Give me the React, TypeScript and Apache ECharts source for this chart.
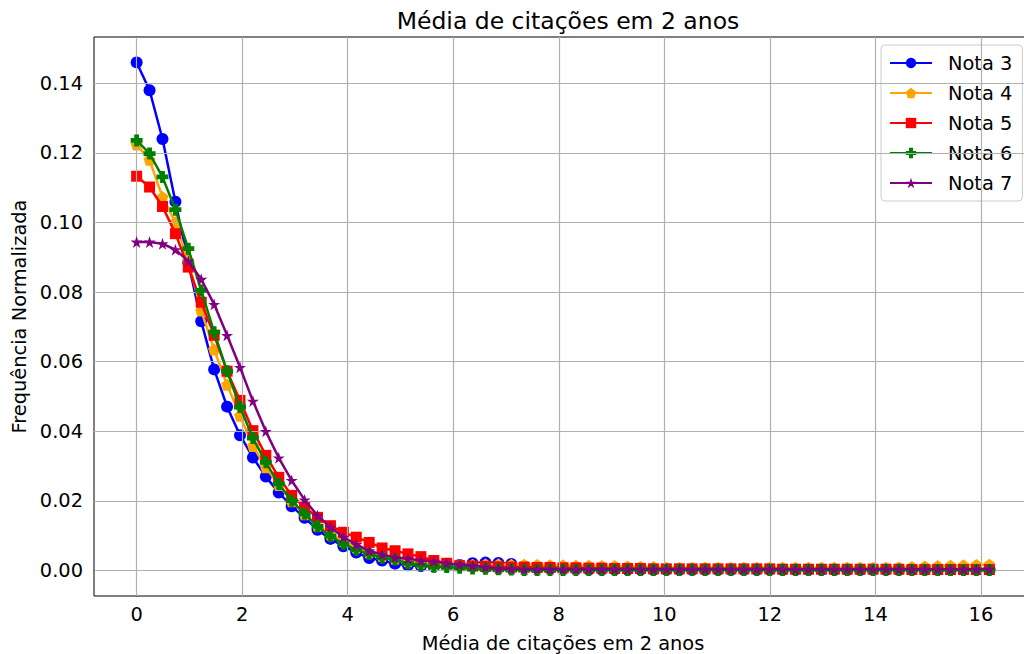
import React, { useEffect, useRef } from "react";
import * as echarts from "echarts";

const xValues = [
  0, 0.245, 0.49, 0.735, 0.979, 1.224, 1.469, 1.714, 1.959, 2.204, 2.448, 2.693, 2.938, 3.183, 3.428, 3.673,
  3.918, 4.162, 4.407, 4.652, 4.897, 5.142, 5.387, 5.632, 5.876, 6.121, 6.366, 6.611, 6.856, 7.101, 7.345,
  7.59, 7.835, 8.08, 8.325, 8.57, 8.815, 9.059, 9.304, 9.549, 9.794, 10.039, 10.284, 10.528, 10.773, 11.018,
  11.263, 11.508, 11.753, 11.998, 12.242, 12.487, 12.732, 12.977, 13.222, 13.467, 13.712, 13.956, 14.201,
  14.446, 14.691, 14.936, 15.181, 15.425, 15.67, 15.915, 16.16,
];

const nota3 = [
  0.146, 0.138, 0.124, 0.106, 0.0885, 0.0716, 0.0578, 0.0471, 0.0389, 0.0325, 0.027, 0.0224, 0.0185, 0.0152,
  0.0117, 0.0091, 0.007, 0.0052, 0.0036, 0.0029, 0.002, 0.0015, 0.0013, 0.0012, 0.0013, 0.0016, 0.0021, 0.0023,
  0.0022, 0.0019, 0.0012, 0.0008, 0.0006, 0.0005, 0.0005, 0.0004, 0.0004, 0.0004, 0.0003, 0.0003, 0.0003,
  0.0003, 0.0003, 0.0003, 0.0003, 0.0003, 0.0003, 0.0003, 0.0003, 0.0003, 0.0003, 0.0003, 0.0003, 0.0003,
  0.0003, 0.0003, 0.0003, 0.0003, 0.0003, 0.0003, 0.0003, 0.0003, 0.0003, 0.0003, 0.0003, 0.0003, 0.0003,
];

const nota4 = [
  0.1224, 0.118, 0.1073, 0.1001, 0.089, 0.0747, 0.0635, 0.0534, 0.0445, 0.0358, 0.0297, 0.0246, 0.0199, 0.0162,
  0.0129, 0.0104, 0.0084, 0.0066, 0.0052, 0.0042, 0.0034, 0.0027, 0.0022, 0.0018, 0.0016, 0.0016, 0.0017, 0.0018,
  0.0018, 0.0017, 0.0017, 0.0016, 0.0015, 0.0015, 0.0014, 0.0014, 0.0013, 0.0013, 0.0012, 0.0011, 0.001,
  0.0008, 0.0008, 0.0008, 0.0008, 0.0008, 0.0008, 0.0008, 0.0008, 0.0008, 0.0008, 0.0008, 0.0008, 0.0008,
  0.0008, 0.0008, 0.0008, 0.0008, 0.0008, 0.0009, 0.001, 0.0012, 0.0013, 0.0014, 0.0015, 0.0016, 0.0017,
];

const nota5 = [
  0.1133, 0.1102, 0.1046, 0.0968, 0.0872, 0.0771, 0.0676, 0.0573, 0.0489, 0.0402, 0.0331, 0.0268, 0.0216, 0.0182,
  0.0153, 0.0129, 0.011, 0.0096, 0.0081, 0.0065, 0.0057, 0.0048, 0.004, 0.0029, 0.0021, 0.0014, 0.0013, 0.0012,
  0.0011, 0.001, 0.001, 0.0009, 0.0009, 0.0008, 0.0008, 0.0007, 0.0007, 0.0006, 0.0006, 0.0006, 0.0005,
  0.0005, 0.0005, 0.0005, 0.0005, 0.0005, 0.0005, 0.0005, 0.0005, 0.0005, 0.0004, 0.0004, 0.0004, 0.0004,
  0.0004, 0.0004, 0.0004, 0.0004, 0.0004, 0.0004, 0.0003, 0.0003, 0.0003, 0.0003, 0.0003, 0.0003, 0.0003,
];

const nota6 = [
  0.1236, 0.1198, 0.1131, 0.1037, 0.0925, 0.0805, 0.0685, 0.0573, 0.047, 0.0381, 0.0311, 0.0249, 0.0201, 0.0163,
  0.0127, 0.0099, 0.0077, 0.006, 0.0048, 0.0037, 0.0031, 0.0021, 0.0016, 0.0011, 0.001, 0.0008, 0.0006, 0.0005,
  0.0004, 0.0003, 0.0002, 0.0002, 0.0002, 0.0002, 0.0002, 0.0002, 0.0002, 0.0002, 0.0002, 0.0002, 0.0002,
  0.0002, 0.0002, 0.0002, 0.0002, 0.0002, 0.0002, 0.0002, 0.0002, 0.0002, 0.0002, 0.0002, 0.0002, 0.0002,
  0.0002, 0.0002, 0.0002, 0.0002, 0.0002, 0.0002, 0.0002, 0.0002, 0.0002, 0.0002, 0.0002, 0.0002, 0.0002,
];

const nota7 = [
  0.0944, 0.0944, 0.0939, 0.0922, 0.0889, 0.0837, 0.0765, 0.0676, 0.0584, 0.0487, 0.04, 0.0324, 0.0259, 0.0203,
  0.0158, 0.0125, 0.0096, 0.0075, 0.0057, 0.0046, 0.0038, 0.0034, 0.0029, 0.0027, 0.0021, 0.0017, 0.0014, 0.001,
  0.0006, 0.0005, 0.0004, 0.0004, 0.0004, 0.0004, 0.0004, 0.0004, 0.0004, 0.0004, 0.0004, 0.0004, 0.0004,
  0.0004, 0.0004, 0.0004, 0.0004, 0.0004, 0.0004, 0.0004, 0.0004, 0.0004, 0.0004, 0.0004, 0.0004, 0.0004,
  0.0004, 0.0004, 0.0004, 0.0004, 0.0004, 0.0004, 0.0004, 0.0004, 0.0004, 0.0004, 0.0004, 0.0004, 0.0004,
];

const seriesNames = ["Nota 3", "Nota 4", "Nota 5", "Nota 6", "Nota 7"];
const xTicks = [0, 2, 4, 6, 8, 10, 12, 14, 16];
const yTicks = [0, 0.02, 0.04, 0.06, 0.08, 0.1, 0.12, 0.14];

const titleText = "Média de citações em 2 anos";
const xLabel = "Média de citações em 2 anos";
const yLabel = "Frequência Normalizada";

const FONT = "DejaVu Sans";
const FS = 19.4;

const PENTAGON = "path://M0,-10 L9.511,-3.09 L5.878,8.09 L-5.878,8.09 L-9.511,-3.09 Z";
const PLUS =
  "path://M-1.2,-3 L1.2,-3 L1.2,-1.2 L3,-1.2 L3,1.2 L1.2,1.2 L1.2,3 L-1.2,3 L-1.2,1.2 L-3,1.2 L-3,-1.2 L-1.2,-1.2 Z";
const STAR =
  "path://M0,-10 L2.245,-3.09 L9.511,-3.09 L3.633,1.18 L5.878,8.09 L0,3.82 L-5.878,8.09 L-3.633,1.18 L-9.511,-3.09 L-2.245,-3.09 Z";

export default function App() {
  const ref = useRef<HTMLDivElement>(null);

  useEffect(() => {
    if (!ref.current) return;
    const chart = echarts.init(ref.current, undefined, { renderer: "svg" });

    const allSeries = [nota3, nota4, nota5, nota6, nota7];
    const colors = ["#0000ff", "#ffa500", "#ff0000", "#008000", "#800080"];
    const symbols = ["circle", PENTAGON, "rect", PLUS, STAR];
    const sizes = [12, 12, 11, 12, 12];

    const series: any[] = [
      {
        name: "__grid",
        type: "line",
        data: [[0, 0]],
        showSymbol: false,
        symbol: "none",
        lineStyle: { opacity: 0 },
        z: 1,
        silent: true,
        markLine: {
          silent: true,
          symbol: ["none", "none"],
          label: { show: false },
          lineStyle: { color: "#b0b0b0", width: 1.2, type: "solid" },
          data: [
            ...xTicks.map((v) => ({ xAxis: v })),
            ...yTicks.map((v) => ({ yAxis: v })),
          ],
        },
      },
    ];

    allSeries.forEach((vals, k) => {
      series.push({
        name: seriesNames[k],
        type: "line",
        data: vals.map((v, i) => [xValues[i], v]),
        symbol: symbols[k],
        symbolSize: sizes[k],
        showAllSymbol: true,
        color: colors[k],
        itemStyle: { color: colors[k] },
        lineStyle: { color: colors[k], width: 2.5 },
        z: 2 + k,
      });
    });

    chart.setOption({
      animation: false,
      backgroundColor: "#ffffff",
      textStyle: { fontFamily: FONT },
      title: {
        text: titleText,
        left: 563,
        top: 4,
        textAlign: "center",
        textStyle: { fontFamily: FONT, fontSize: 23.5, fontWeight: "normal", color: "#000" },
      },
      grid: {
        left: 94,
        top: 37,
        width: 938,
        height: 559,
        outerBoundsMode: "none",
        containLabel: false,
        show: true,
        borderColor: "#000",
        borderWidth: 1,
        backgroundColor: "transparent",
      },
      legend: {
        data: seriesNames,
        orient: "vertical",
        left: 881,
        top: 45,
        padding: [8, 10, 8, 8],
        itemGap: 10,
        itemWidth: 42,
        itemHeight: 13,
        backgroundColor: "#ffffff",
        borderColor: "#cccccc",
        borderWidth: 1,
        borderRadius: 4,
        textStyle: {
          fontFamily: FONT,
          fontSize: FS,
          color: "#000",
          lineHeight: 20,
          padding: [0, 0, 0, 11],
        },
      },
      xAxis: {
        type: "value",
        min: -0.808,
        max: 16.968,
        name: xLabel,
        nameLocation: "middle",
        nameGap: 37,
        nameTextStyle: { fontFamily: FONT, fontSize: FS, color: "#000", lineHeight: 20 },
        axisLine: { show: true, lineStyle: { color: "#000", width: 1 } },
        axisTick: { show: true, length: 6, lineStyle: { color: "#000" }, customValues: xTicks },
        axisLabel: {
          customValues: xTicks,
          margin: 9,
          fontFamily: FONT,
          fontSize: FS,
          color: "#000",
          formatter: (v: number) => String(v),
        },
        splitLine: { show: false },
      },
      yAxis: {
        type: "value",
        min: -0.0073,
        max: 0.1533,
        name: yLabel,
        nameLocation: "middle",
        nameGap: 65,
        nameTextStyle: { fontFamily: FONT, fontSize: FS, color: "#000" },
        axisLine: { show: true, lineStyle: { color: "#000", width: 1 } },
        axisTick: { show: true, length: 6, lineStyle: { color: "#000" }, customValues: yTicks },
        axisLabel: {
          customValues: yTicks,
          margin: 11,
          fontFamily: FONT,
          fontSize: FS,
          color: "#000",
          formatter: (v: number) => v.toFixed(2),
        },
        splitLine: { show: false },
      },
      series,
    });

    return () => chart.dispose();
  }, []);

  return (
    <div
      style={{ position: "fixed", left: 0, top: 0, width: 1024, height: 654, overflow: "hidden", background: "#fff" }}
    >
      <div ref={ref} style={{ width: 1040, height: 654 }} />
    </div>
  );
}
